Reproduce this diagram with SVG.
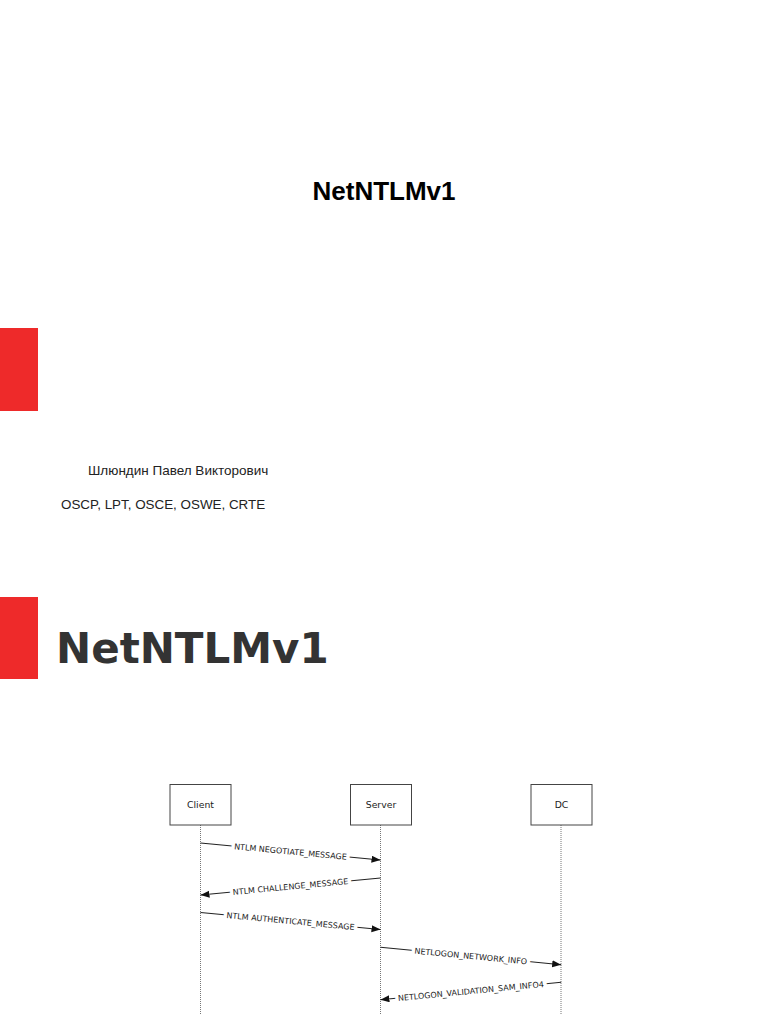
<svg xmlns="http://www.w3.org/2000/svg" width="768" height="1024" viewBox="0 0 768 1024">
<style>
.red{fill:#EE2A2A}
.box{fill:#fff;stroke:#444;stroke-width:1}
.boxt{font-family:"DejaVu Sans",sans-serif;font-size:9.3px;fill:#222;text-anchor:middle}
.life{stroke:#777;stroke-width:1;stroke-dasharray:1,1;fill:none}
.msg{stroke:#222;stroke-width:1;fill:none}
.lbl{font-family:"DejaVu Sans",sans-serif;font-size:8px;fill:#222;text-anchor:middle;stroke:#fff;stroke-width:7;stroke-linejoin:round;paint-order:stroke}
</style>
<defs>
<marker id="ah" markerUnits="userSpaceOnUse" markerWidth="10" markerHeight="8" refX="9" refY="3.5" orient="auto-start-reverse">
<path d="M0,0 L9,3.5 L0,7 z" fill="#111"/>
</marker>
</defs>
<rect width="768" height="1024" fill="#fff"/>
<g id="title">
<text x="384" y="200" font-family="Liberation Sans, sans-serif" font-weight="bold" font-size="26" text-anchor="middle" fill="#000">NetNTLMv1</text>
</g>
<rect id="bar1" class="red" x="0" y="328" width="38" height="83"/>
<g id="author">
<text x="88" y="475" font-family="Liberation Sans, sans-serif" font-size="13.5" fill="#222">Шлюндин Павел Викторович</text>
<text x="61" y="509" font-family="Liberation Sans, sans-serif" font-size="13.4" fill="#222">OSCP, LPT, OSCE, OSWE, CRTE</text>
</g>
<rect id="bar2" class="red" x="0" y="597" width="38" height="82"/>
<g id="heading">
<text x="56" y="663" font-family="DejaVu Sans, sans-serif" font-weight="bold" font-size="42" fill="#333">NetNTLMv1</text>
</g>
<g id="lifelines">
<line class="life" x1="200.5" y1="825" x2="200.5" y2="1015"/>
<line class="life" x1="380.5" y1="825" x2="380.5" y2="1015"/>
<line class="life" x1="561" y1="825" x2="561" y2="1015"/>
</g>
<g id="client">
<rect class="box" x="170" y="784.5" width="61" height="40.5"/>
<text class="boxt" x="200.5" y="808">Client</text>
</g>
<g id="server">
<rect class="box" x="350.5" y="784.5" width="61" height="40.5"/>
<text class="boxt" x="381" y="808">Server</text>
</g>
<g id="dc">
<rect class="box" x="531" y="784.5" width="61" height="40.5"/>
<text class="boxt" x="561.5" y="808">DC</text>
</g>
<g id="connectors">
<g transform="translate(290.5,851.5) rotate(5.4)">
<line class="msg" x1="-90.4" y1="0" x2="90.4" y2="0" marker-end="url(#ah)"/>
<text class="lbl" x="0" y="3">NTLM NEGOTIATE_MESSAGE</text>
</g>
<g transform="translate(290.5,886.5) rotate(-5.4)">
<line class="msg" x1="-90.4" y1="0" x2="90.4" y2="0" marker-start="url(#ah)"/>
<text class="lbl" x="0" y="3">NTLM CHALLENGE_MESSAGE</text>
</g>
<g transform="translate(290.5,921) rotate(5.4)">
<line class="msg" x1="-90.4" y1="0" x2="90.4" y2="0" marker-end="url(#ah)"/>
<text class="lbl" x="0" y="3">NTLM AUTHENTICATE_MESSAGE</text>
</g>
<g transform="translate(470.8,956) rotate(5.5)">
<line class="msg" x1="-90.8" y1="0" x2="90.8" y2="0" marker-end="url(#ah)"/>
<text class="lbl" x="0" y="3">NETLOGON_NETWORK_INFO</text>
</g>
<g transform="translate(470.8,991) rotate(-5.5)">
<line class="msg" x1="-90.8" y1="0" x2="90.8" y2="0" marker-start="url(#ah)"/>
<text class="lbl" x="0" y="3">NETLOGON_VALIDATION_SAM_INFO4</text>
</g>
</g>
</svg>
